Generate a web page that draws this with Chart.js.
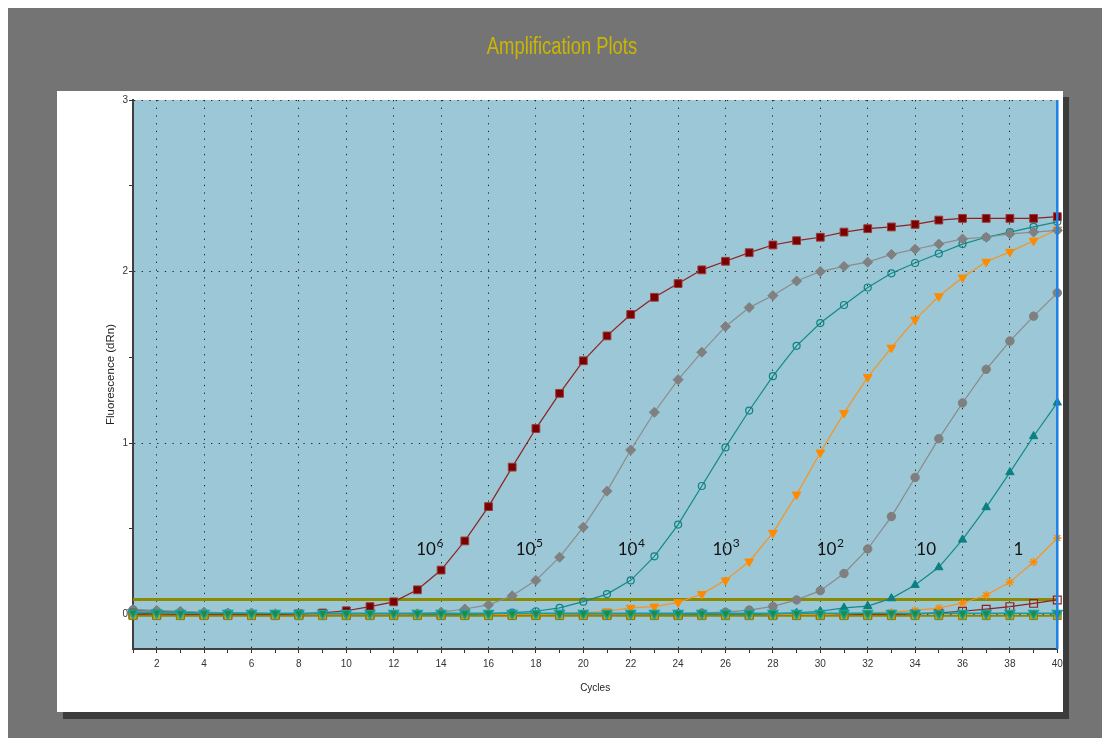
<!DOCTYPE html>
<html>
<head>
<meta charset="utf-8">
<title>Amplification Plots</title>
<script src="https://cdn.jsdelivr.net/npm/chart.js@4.4.1/dist/chart.umd.min.js"></script>
<style>
  html, body { margin: 0; padding: 0; background: #ffffff; overflow: hidden; }
  canvas { display: block; }
</style>
</head>
<body>
<canvas id="plot" width="1110" height="745"></canvas>
<script>
// Cycle numbers on the x axis
const cycles = [1,2,3,4,5,6,7,8,9,10,11,12,13,14,15,16,17,18,19,20,21,22,23,24,25,26,27,28,29,30,31,32,33,34,35,36,37,38,39,40];

// Delta Rn per cycle for each dilution of the standard curve
const dRn1e6 = [0.01,0.005,0,0,0,0,0,0.005,0.01,0.023,0.047,0.075,0.145,0.26,0.43,0.63,0.86,1.085,1.29,1.48,1.625,1.75,1.85,1.93,2.01,2.06,2.11,2.155,2.18,2.2,2.23,2.25,2.26,2.275,2.3,2.31,2.31,2.31,2.31,2.32];
const dRn1e5 = [0.03,0.025,0.02,0.015,0.01,0.01,0.005,0,0,0,0,0,0.005,0.015,0.033,0.057,0.11,0.2,0.335,0.51,0.72,0.96,1.18,1.37,1.53,1.68,1.79,1.86,1.945,2.0,2.03,2.055,2.1,2.13,2.16,2.19,2.2,2.22,2.23,2.24];
const dRn1e4 = [0.03,0.02,0.015,0.01,0.01,0.005,0.005,0,0,0,0,0,0,0,0,0.005,0.012,0.02,0.04,0.076,0.12,0.2,0.34,0.525,0.75,0.975,1.19,1.39,1.567,1.7,1.805,1.907,1.99,2.05,2.105,2.16,2.2,2.23,2.26,2.29];
const dRn1e3 = [0.01,0.01,0.005,0.005,0,0,0,0,0,0,0,0,0,0,0,0,0,0,0.005,0.01,0.02,0.04,0.047,0.072,0.12,0.2,0.31,0.477,0.7,0.945,1.175,1.385,1.556,1.72,1.856,1.965,2.057,2.115,2.18,2.245];
const dRn1e2 = [0.02,0.015,0.01,0.01,0.005,0.005,0,0,0,0,0,0,0,0,0,0,0,0,0,0,0,0,0.005,0.005,0.01,0.015,0.027,0.048,0.086,0.14,0.24,0.383,0.572,0.8,1.026,1.234,1.43,1.595,1.74,1.876];
const dRn1e1 = [0.025,0.02,0.015,0.01,0.01,0.005,0.005,0,0,0,0,0,0,0,0,0,0,0,0,0,0,0,0,0,0,0,0,0.005,0.01,0.02,0.04,0.05,0.095,0.173,0.276,0.437,0.626,0.83,1.04,1.236];
const dRn1e0 = [0.01,0.005,0,0,0,0,0,0,0,0,0,0,0,0,0,0,0,0,0,0,0,0,0,0,0,0,0,0,0,0,0.005,0.01,0.015,0.025,0.038,0.068,0.113,0.19,0.307,0.447];
const dRnLate = [0,0,0,0,0,0,0,0,0,0,0,0,0,0,0,0,0,0,0,0,0,0,0,0,0,0,0,0,0,0,0,0,0,0.005,0.01,0.02,0.032,0.047,0.066,0.086];

// No-template wells sitting on the baseline
const dRnNtcA = [0.012,0.012,0.008,0.008,0.008,0.008,0.008,0.008,0.008,0.008,0.008,0.008,0.008,0.008,0.008,0.008,0.008,0.008,0.008,0.008,0.008,0.008,0.008,0.008,0.008,0.008,0.008,0.008,0.008,0.008,0.008,0.008,0.008,0.008,0.008,0.008,0.008,0.008,0.008,0.008];
const dRnNtcB = [-0.006,-0.006,-0.006,-0.006,-0.006,-0.006,-0.006,-0.006,-0.006,-0.006,-0.006,-0.006,-0.006,-0.006,-0.006,-0.006,-0.006,-0.006,-0.006,-0.006,-0.006,-0.006,-0.006,-0.006,-0.006,-0.006,-0.006,-0.006,-0.006,-0.006,-0.006,-0.006,-0.006,-0.006,-0.006,-0.006,-0.006,-0.006,-0.006,-0.006];

// Threshold and cursor
const thresholdLevel = 0.088;
const cursorCycle = 40;

// Axis tick labels
const xTickLabels = [2,4,6,8,10,12,14,16,18,20,22,24,26,28,30,32,34,36,38,40];
const yTickLabels = [0,1,2,3];

// Dilution annotations (base, exponent) and where they sit
const dilutionBases = ['10','10','10','10','10','10','1'];
const dilutionExps  = ['6','5','4','3','2','',''];
const dilutionCycles = [12.95, 17.15, 21.45, 25.45, 29.85, 34.05, 38.15];
const dilutionLevel = 0.35;

const chartTitle = 'Amplification Plots';

const toXY = arr => arr.map((v, i) => ({ x: cycles[i], y: v }));

const SANS = "'Liberation Sans', Arial, sans-serif";

function curve(label, values, color, lineColor, style, extra) {
  return Object.assign({
    label: label,
    data: toXY(values),
    borderColor: lineColor,
    borderWidth: 1.2,
    pointStyle: style,
    pointRadius: 4.5,
    pointBackgroundColor: color,
    pointBorderColor: color,
    pointBorderWidth: 1,
    tension: 0,
    fill: false,
    clip: false
  }, extra || {});
}

const datasets = [
  curve('NTC A', dRnNtcA, '#1f8a40', '#1e9a9a', 'triangle', {
    pointRotation: 180, pointRadius: 5.5, pointBorderColor: '#17a2a2', pointBorderWidth: 1.5, borderWidth: 1.5
  }),
  curve('NTC B', dRnNtcB, '#b8a51c', '#8c8700', 'rect', {
    pointRadius: 5.5, pointBorderColor: '#8a7e00', borderWidth: 2
  }),
  curve('10^6', dRn1e6, '#7b0000', '#8e2222', 'rect', { pointRadius: 5.5, pointBorderColor: '#9a3a3a' }),
  curve('10^5', dRn1e5, '#808080', '#8c8c8c', 'rectRot', { pointRadius: 5 }),
  curve('10^4', dRn1e4, 'rgba(0,0,0,0)', '#138a8a', 'circle', {
    pointRadius: 3.5, pointBorderColor: '#0f8282', pointBorderWidth: 1.2
  }),
  curve('10^3', dRn1e3, '#ff8a00', '#f79420', 'triangle', { pointRotation: 180, pointRadius: 5 }),
  curve('10^2', dRn1e2, '#7f7f7f', '#8a8a8a', 'circle', { pointRadius: 4.2 }),
  curve('10', dRn1e1, '#0b8080', '#138a8a', 'triangle', { pointRadius: 4.8 }),
  curve('1', dRn1e0, '#ff8a00', '#f79420', 'star', { pointRadius: 4.2, pointBorderWidth: 1.3 }),
  curve('late', dRnLate, 'rgba(0,0,0,0)', '#8e2222', 'rect', {
    pointRadius: 5.5, pointBorderColor: '#9b1c1c', pointBorderWidth: 1.2
  }),
  {
    label: 'Threshold',
    data: [{ x: cycles[0], y: thresholdLevel }, { x: cycles[cycles.length - 1], y: thresholdLevel }],
    borderColor: '#8b8a00',
    borderWidth: 3,
    pointRadius: 0,
    fill: false,
    clip: false
  }
];

// Window frame, title, white panel with its drop shadow and the plot background
const framePlugin = {
  id: 'frame',
  beforeDraw(chart) {
    const { ctx, chartArea: a } = chart;
    ctx.save();
    ctx.fillStyle = '#ffffff';
    ctx.fillRect(0, 0, chart.width, chart.height);
    ctx.fillStyle = '#747474';
    ctx.fillRect(8, 8, 1094, 730);
    ctx.fillStyle = '#3c3c3c';
    ctx.fillRect(63, 97, 1006, 622);
    ctx.fillStyle = '#ffffff';
    ctx.fillRect(57, 91, 1006, 621);
    ctx.fillStyle = '#9bc7d6';
    ctx.fillRect(a.left, a.top, a.right - a.left, a.bottom - a.top);

    // condensed title above the panel
    ctx.translate(562, 48);
    ctx.scale(0.8, 1);
    ctx.font = '23px ' + SANS;
    ctx.fillStyle = '#cbb600';
    ctx.textAlign = 'center';
    ctx.textBaseline = 'middle';
    ctx.fillText(chartTitle, 0, 0);
    ctx.restore();
  }
};

// Dilution labels such as 10^6 written with a raised exponent, plus the cycle cursor
const dilutionPlugin = {
  id: 'dilutions',
  afterDatasetsDraw(chart) {
    const { ctx, scales: { x, y } } = chart;
    ctx.save();
    ctx.fillStyle = '#111111';
    ctx.textBaseline = 'alphabetic';
    ctx.textAlign = 'left';
    dilutionBases.forEach((base, i) => {
      const px = x.getPixelForValue(dilutionCycles[i]);
      const py = y.getPixelForValue(dilutionLevel);
      ctx.font = "17px Lato, 'Liberation Sans', sans-serif";
      ctx.fillText(base, px, py);
      const w = ctx.measureText(base).width;
      if (dilutionExps[i]) {
        ctx.font = "12px Lato, 'Liberation Sans', sans-serif";
        ctx.fillText(dilutionExps[i], px + w + 0.5, py - 8);
      }
    });
    ctx.restore();
  },
  afterDraw(chart) {
    const { ctx, chartArea: a, scales: { x } } = chart;
    const cx = x.getPixelForValue(cursorCycle);
    ctx.save();
    ctx.strokeStyle = '#1f80e6';
    ctx.lineWidth = 2.5;
    ctx.beginPath();
    ctx.moveTo(cx, a.top);
    ctx.lineTo(cx, a.bottom);
    ctx.stroke();
    ctx.restore();
  }
};

new Chart(document.getElementById('plot'), {
  type: 'line',
  data: { datasets: datasets },
  plugins: [framePlugin, dilutionPlugin],
  options: {
    responsive: false,
    devicePixelRatio: 1,
    animation: false,
    events: [],
    layout: { padding: { left: 0, top: 100, right: 52.7, bottom: 0 } },
    plugins: {
      legend: { display: false },
      tooltip: { enabled: false },
      title: { display: false }
    },
    scales: {
      x: {
        type: 'linear',
        min: 1,
        max: 40,
        afterFit(scale) { scale.height = 96; },
        ticks: {
          stepSize: 1,
          maxTicksLimit: 100,
          autoSkip: false,
          maxRotation: 0,
          padding: 5,
          color: '#333333',
          font: { family: SANS, size: 10 },
          callback: v => (xTickLabels.includes(v) ? String(v) : '')
        },
        grid: {
          color: c => (c.tick && xTickLabels.includes(c.tick.value) ? '#262626' : 'rgba(0,0,0,0)'),
          tickColor: '#333333',
          lineWidth: 1,
          tickLength: 4
        },
        border: { display: true, color: '#404040', width: 2, dash: [1.3, 6.4] },
        title: {
          display: true,
          text: 'Cycles',
          color: '#222222',
          font: { family: SANS, size: 10 },
          padding: { top: 0, bottom: 51 }
        }
      },
      y: {
        type: 'linear',
        min: -0.2,
        max: 3,
        afterFit(scale) { scale.width = 133; },
        ticks: {
          stepSize: 0.5,
          includeBounds: false,
          padding: 1,
          color: '#333333',
          font: { family: SANS, size: 10 },
          callback: v => (yTickLabels.includes(v) ? String(v) : '')
        },
        grid: {
          color: c => (c.tick && yTickLabels.includes(c.tick.value) ? '#262626' : 'rgba(0,0,0,0)'),
          tickColor: '#333333',
          lineWidth: 1,
          tickLength: 4
        },
        border: { display: true, color: '#404040', width: 2, dash: [1.3, 6.4] },
        title: {
          display: true,
          text: 'Fluorescence (dRn)',
          color: '#222222',
          font: { family: SANS, size: 11.5 },
          padding: { top: 104, bottom: 0 }
        }
      }
    }
  }
});
</script>
</body>
</html>
